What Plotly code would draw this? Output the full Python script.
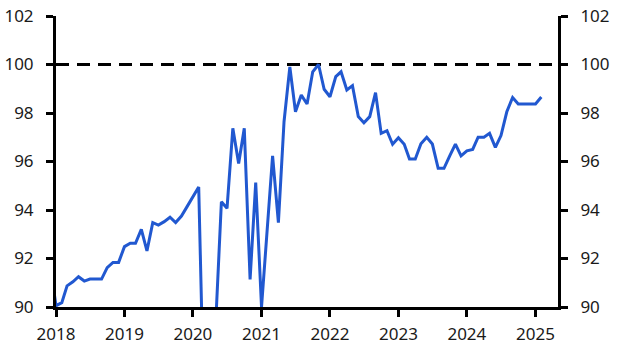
import plotly.graph_objects as go
import pandas as pd

# Monthly index values, Dec 2017 - Feb 2025
start_month = "2017-12-01"
end_month = "2025-02-01"
values = [
    91.7,
    90.05, 90.18, 90.87, 91.04, 91.25, 91.07, 91.15, 91.15, 91.15, 91.62, 91.84, 91.84,
    92.49, 92.63, 92.63, 93.20, 92.31, 93.48, 93.38, 93.52, 93.70, 93.48, 93.75, 94.14,
    94.52, 94.95, 85.50, 85.00, 89.20, 94.34, 94.07, 97.37, 95.92, 97.37, 91.14, 95.13,
    90.00, 93.10, 96.23, 93.48, 97.64, 99.90, 98.05, 98.74, 98.37, 99.70, 100.0, 98.98,
    98.67, 99.50, 99.70, 98.95, 99.13, 97.85, 97.60, 97.85, 98.84, 97.16, 97.27, 96.71,
    96.98, 96.71, 96.10, 96.10, 96.73, 97.00, 96.72, 95.72, 95.72, 96.22, 96.72, 96.23,
    96.44, 96.50, 97.00, 97.00, 97.16, 96.58, 97.07, 98.05, 98.64, 98.37, 98.37, 98.37,
    98.37, 98.66,
]
dates = pd.date_range(start_month, end_month, freq="MS")

reference_level = 100
y_ticks = [90, 92, 94, 96, 98, 100, 102]
x_tick_years = [2018, 2019, 2020, 2021, 2022, 2023, 2024, 2025]

font = dict(family="Noto Sans, Open Sans, sans-serif", size=17, color="#1a1a1a")

fig = go.Figure()
fig.add_trace(go.Scatter(
    x=dates, y=values, mode="lines",
    line=dict(color="#2158d0", width=3),
    showlegend=False, hoverinfo="skip",
))
# invisible trace for right axis
fig.add_trace(go.Scatter(
    x=[dates[0]], y=[values[0]], yaxis="y2", mode="lines",
    line=dict(width=0), showlegend=False, hoverinfo="skip",
))

fig.add_shape(type="line", xref="paper", yref="y", x0=0, x1=1,
              y0=reference_level, y1=reference_level,
              line=dict(color="black", width=3, dash="13px,8px"), layer="below")

axis_common = dict(
    range=[90, 102], tickvals=y_ticks, ticks="outside", ticklen=7, tickwidth=3,
    tickcolor="black", showline=True, linecolor="black", linewidth=3,
    showgrid=False, zeroline=False, tickfont=font, automargin=False,
    ticklabelstandoff=9,
)

fig.update_layout(
    width=621, height=353,
    margin=dict(l=56, r=63, t=16, b=46, autoexpand=False),
    paper_bgcolor="white", plot_bgcolor="white",
    xaxis=dict(
        type="date",
        range=["2018-01-01", "2025-05-01"],
        tickvals=[f"{y}-01-01" for y in x_tick_years],
        ticktext=[str(y) for y in x_tick_years],
        ticks="outside", ticklen=7, tickwidth=3, tickcolor="black",
        showline=True, linecolor="black", linewidth=3,
        showgrid=False, zeroline=False, tickfont=font, automargin=False,
        ticklabelstandoff=3,
    ),
    yaxis=dict(side="left", **axis_common),
    yaxis2=dict(side="right", overlaying="y", **axis_common),
)

fig.write_html("out.html")
